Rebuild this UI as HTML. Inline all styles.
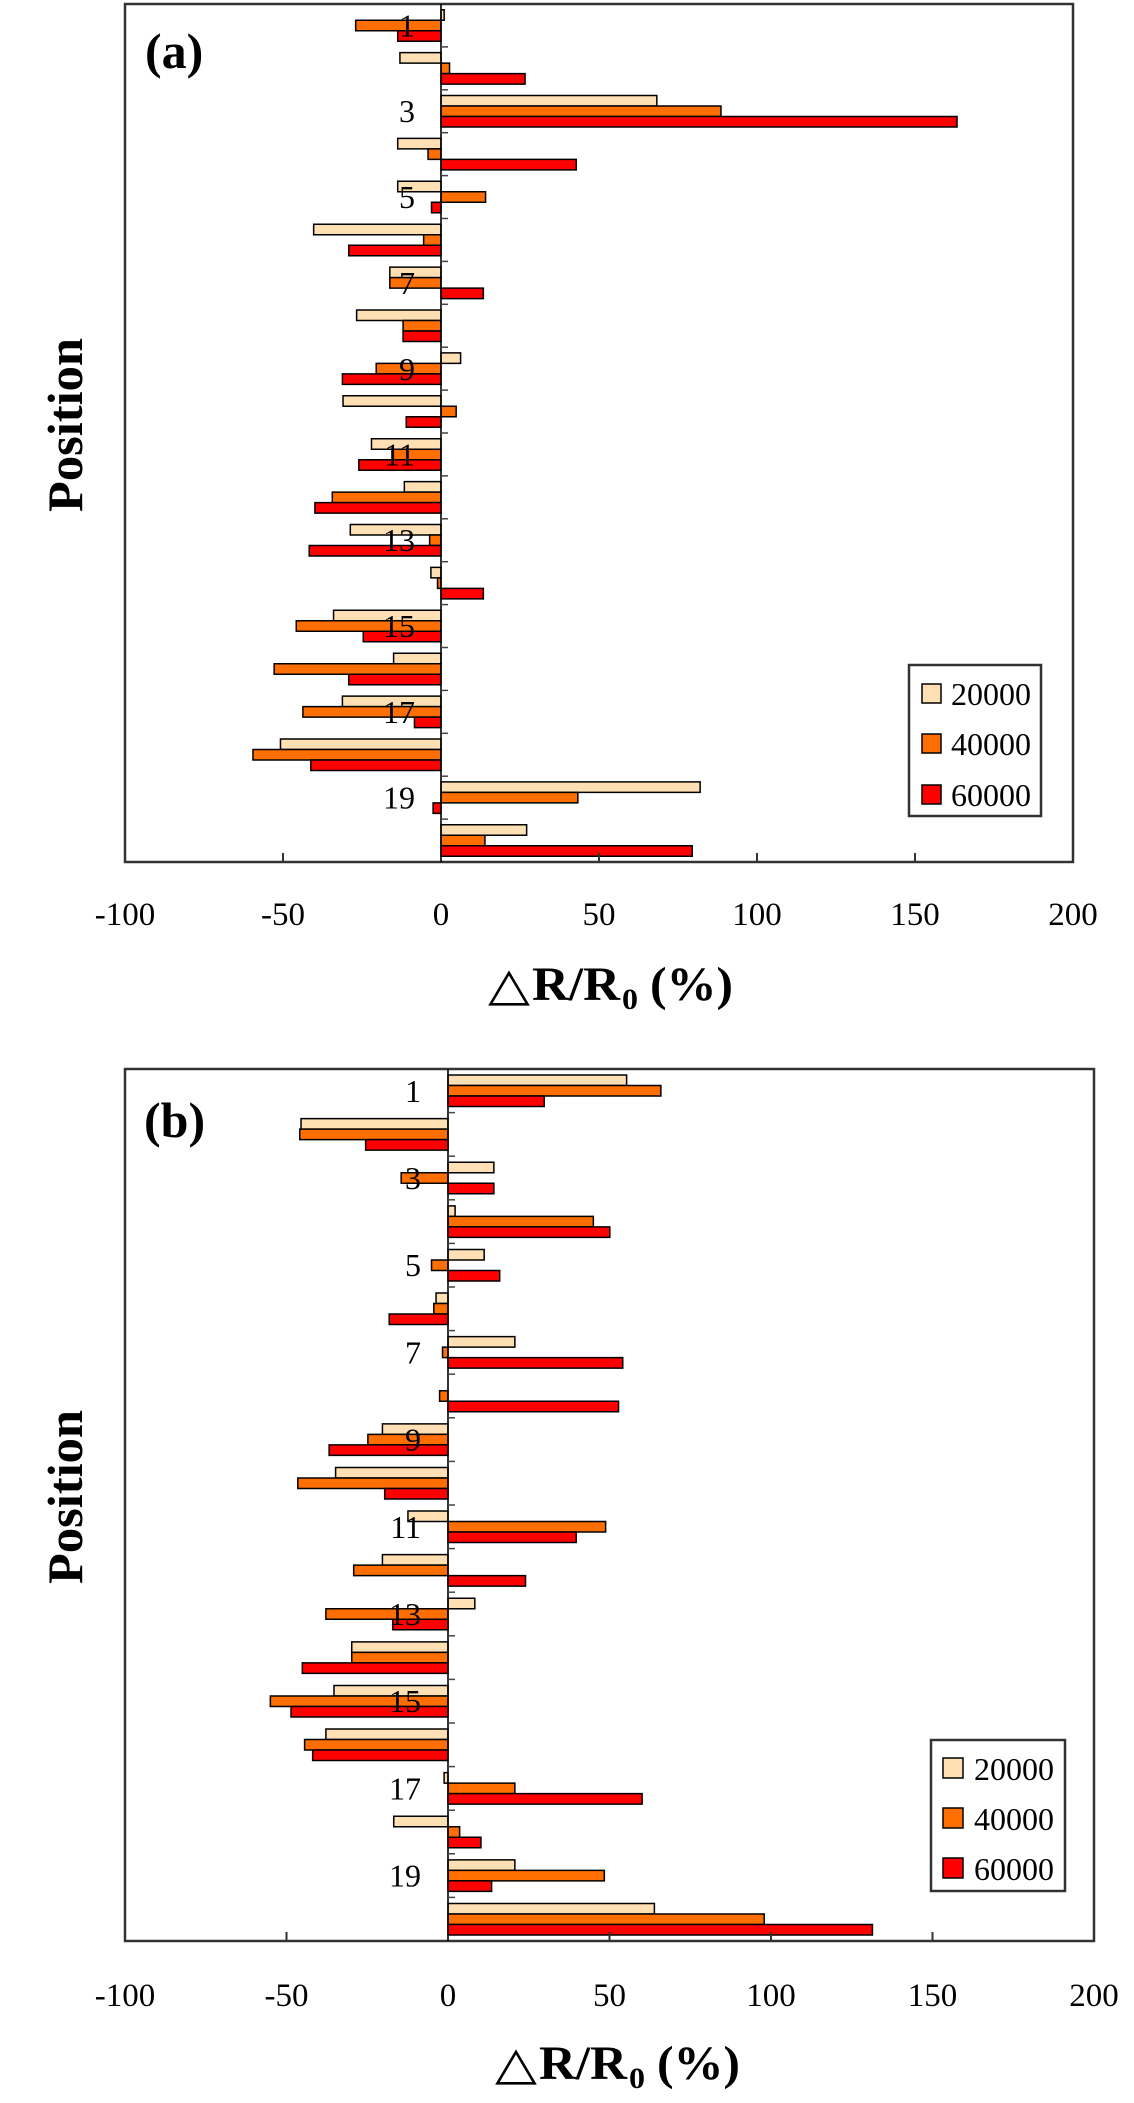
<!DOCTYPE html>
<html>
<head>
<meta charset="utf-8">
<style>
html,body{margin:0;padding:0;background:#fff;}
svg{display:block;}
.l{fill:#FFE0B4;stroke:#000;stroke-width:1.5;}
.o{fill:#FF6E00;stroke:#000;stroke-width:1.5;}
.r{fill:#FF0000;stroke:#000;stroke-width:1.5;}
.bars rect{vector-effect:non-scaling-stroke;}
text{font-family:"Liberation Serif","DejaVu Serif",serif;fill:#000;}
.tk{font-size:33px;text-anchor:middle;}
.cat{font-size:32px;text-anchor:end;}
.lg{font-size:32px;}
.bt{font-weight:bold;}
</style>
</head>
<body>
<svg width="1134" height="2103" viewBox="0 0 1134 2103" xmlns="http://www.w3.org/2000/svg">
<rect x="0" y="0" width="1134" height="2103" fill="#fff"/>

<!-- ================= PLOT (a) ================= -->
<g class="bars" transform="translate(441,0) scale(3.16,1)">
<rect class="l" x="0" y="9.7" width="1" height="10.5"/>
<rect class="o" x="-27" y="20.2" width="27" height="10.5"/>
<rect class="r" x="-13.7" y="30.7" width="13.7" height="10.5"/>

<rect class="l" x="-13" y="52.6" width="13" height="10.5"/>
<rect class="o" x="0" y="63.1" width="2.7" height="10.5"/>
<rect class="r" x="0" y="73.6" width="26.6" height="10.5"/>

<rect class="l" x="0" y="95.5" width="68.3" height="10.5"/>
<rect class="o" x="0" y="106" width="88.6" height="10.5"/>
<rect class="r" x="0" y="116.5" width="163.3" height="10.5"/>

<rect class="l" x="-13.7" y="138.4" width="13.7" height="10.5"/>
<rect class="o" x="-4.1" y="148.9" width="4.1" height="10.5"/>
<rect class="r" x="0" y="159.4" width="42.8" height="10.5"/>

<rect class="l" x="-13.7" y="181.3" width="13.7" height="10.5"/>
<rect class="o" x="0" y="191.8" width="14.1" height="10.5"/>
<rect class="r" x="-3" y="202.3" width="3" height="10.5"/>

<rect class="l" x="-40.3" y="224.2" width="40.3" height="10.5"/>
<rect class="o" x="-5.5" y="234.7" width="5.5" height="10.5"/>
<rect class="r" x="-29.2" y="245.2" width="29.2" height="10.5"/>

<rect class="l" x="-16.2" y="267.1" width="16.2" height="10.5"/>
<rect class="o" x="-16.2" y="277.6" width="16.2" height="10.5"/>
<rect class="r" x="0" y="288.1" width="13.4" height="10.5"/>

<rect class="l" x="-26.7" y="310" width="26.7" height="10.5"/>
<rect class="o" x="-12" y="320.5" width="12" height="10.5"/>
<rect class="r" x="-12" y="331" width="12" height="10.5"/>

<rect class="l" x="0" y="352.9" width="6.2" height="10.5"/>
<rect class="o" x="-20.5" y="363.4" width="20.5" height="10.5"/>
<rect class="r" x="-31.2" y="373.9" width="31.2" height="10.5"/>

<rect class="l" x="-31" y="395.8" width="31" height="10.5"/>
<rect class="o" x="0" y="406.3" width="4.8" height="10.5"/>
<rect class="r" x="-11" y="416.8" width="11" height="10.5"/>

<rect class="l" x="-22" y="438.7" width="22" height="10.5"/>
<rect class="o" x="-15.5" y="449.2" width="15.5" height="10.5"/>
<rect class="r" x="-26" y="459.7" width="26" height="10.5"/>

<rect class="l" x="-11.6" y="481.6" width="11.6" height="10.5"/>
<rect class="o" x="-34.4" y="492.1" width="34.4" height="10.5"/>
<rect class="r" x="-39.9" y="502.6" width="39.9" height="10.5"/>

<rect class="l" x="-28.7" y="524.5" width="28.7" height="10.5"/>
<rect class="o" x="-3.6" y="535" width="3.6" height="10.5"/>
<rect class="r" x="-41.7" y="545.5" width="41.7" height="10.5"/>

<rect class="l" x="-3.2" y="567.4" width="3.2" height="10.5"/>
<rect class="o" x="-1.1" y="577.9" width="1.1" height="10.5"/>
<rect class="r" x="0" y="588.4" width="13.4" height="10.5"/>

<rect class="l" x="-34" y="610.3" width="34" height="10.5"/>
<rect class="o" x="-45.8" y="620.8" width="45.8" height="10.5"/>
<rect class="r" x="-24.6" y="631.3" width="24.6" height="10.5"/>

<rect class="l" x="-15" y="653.2" width="15" height="10.5"/>
<rect class="o" x="-52.8" y="663.7" width="52.8" height="10.5"/>
<rect class="r" x="-29.2" y="674.2" width="29.2" height="10.5"/>

<rect class="l" x="-31.2" y="696.1" width="31.2" height="10.5"/>
<rect class="o" x="-43.7" y="706.6" width="43.7" height="10.5"/>
<rect class="r" x="-8.4" y="717.1" width="8.4" height="10.5"/>

<rect class="l" x="-50.8" y="739" width="50.8" height="10.5"/>
<rect class="o" x="-59.5" y="749.5" width="59.5" height="10.5"/>
<rect class="r" x="-41.2" y="760" width="41.2" height="10.5"/>

<rect class="l" x="0" y="781.9" width="82" height="10.5"/>
<rect class="o" x="0" y="792.4" width="43.3" height="10.5"/>
<rect class="r" x="-2.5" y="802.9" width="2.5" height="10.5"/>

<rect class="l" x="0" y="824.8" width="27.1" height="10.5"/>
<rect class="o" x="0" y="835.3" width="13.9" height="10.5"/>
<rect class="r" x="0" y="845.8" width="79.5" height="10.5"/>
</g>

<!-- frame (a) -->
<rect x="125" y="4" width="948" height="858" fill="none" stroke="#333" stroke-width="2.5"/>
<line x1="441" y1="4" x2="441" y2="862" stroke="#000" stroke-width="1.6"/>
<!-- bottom ticks (a) -->
<g stroke="#333" stroke-width="2">
<line x1="283" y1="853" x2="283" y2="862"/>
<line x1="599" y1="853" x2="599" y2="862"/>
<line x1="757" y1="853" x2="757" y2="862"/>
<line x1="915" y1="853" x2="915" y2="862"/>
</g>
<!-- category ticks (a) -->
<g stroke="#444" stroke-width="1.5">
<line x1="441" y1="46.9" x2="448" y2="46.9"/>
<line x1="441" y1="89.8" x2="448" y2="89.8"/>
<line x1="441" y1="132.7" x2="448" y2="132.7"/>
<line x1="441" y1="175.6" x2="448" y2="175.6"/>
<line x1="441" y1="218.5" x2="448" y2="218.5"/>
<line x1="441" y1="261.4" x2="448" y2="261.4"/>
<line x1="441" y1="304.3" x2="448" y2="304.3"/>
<line x1="441" y1="347.2" x2="448" y2="347.2"/>
<line x1="441" y1="390.1" x2="448" y2="390.1"/>
<line x1="441" y1="433" x2="448" y2="433"/>
<line x1="441" y1="475.9" x2="448" y2="475.9"/>
<line x1="441" y1="518.8" x2="448" y2="518.8"/>
<line x1="441" y1="561.7" x2="448" y2="561.7"/>
<line x1="441" y1="604.6" x2="448" y2="604.6"/>
<line x1="441" y1="647.5" x2="448" y2="647.5"/>
<line x1="441" y1="690.4" x2="448" y2="690.4"/>
<line x1="441" y1="733.3" x2="448" y2="733.3"/>
<line x1="441" y1="776.2" x2="448" y2="776.2"/>
<line x1="441" y1="819.1" x2="448" y2="819.1"/>
</g>
<!-- category labels (a) -->
<text class="cat" x="415" y="36.5">1</text>
<text class="cat" x="415" y="122">3</text>
<text class="cat" x="415" y="208">5</text>
<text class="cat" x="415" y="294">7</text>
<text class="cat" x="415" y="380">9</text>
<text class="cat" x="415" y="465.5">11</text>
<text class="cat" x="415" y="551">13</text>
<text class="cat" x="415" y="637">15</text>
<text class="cat" x="415" y="723">17</text>
<text class="cat" x="415" y="808.5">19</text>
<!-- tick labels (a) -->
<text class="tk" x="125" y="925">-100</text>
<text class="tk" x="283" y="925">-50</text>
<text class="tk" x="441" y="925">0</text>
<text class="tk" x="599" y="925">50</text>
<text class="tk" x="757" y="925">100</text>
<text class="tk" x="915" y="925">150</text>
<text class="tk" x="1073" y="925">200</text>
<!-- legend (a) -->
<rect x="909" y="665" width="132" height="151" fill="#fff" stroke="#333" stroke-width="2.5"/>
<rect class="l" x="922" y="684" width="19" height="19"/>
<rect class="o" x="922" y="734" width="19" height="19"/>
<rect class="r" x="922" y="785" width="19" height="19"/>
<text class="lg" x="951" y="705">20000</text>
<text class="lg" x="951" y="755">40000</text>
<text class="lg" x="951" y="806">60000</text>
<!-- panel label (a) -->
<text class="bt" x="145" y="68" font-size="50">(a)</text>
<!-- y title (a) -->
<text class="bt" font-size="50" text-anchor="middle" textLength="174" lengthAdjust="spacingAndGlyphs" transform="translate(82,425) rotate(-90)">Position</text>
<!-- x title (a) -->
<text class="bt" x="488" y="1000" font-size="46" textLength="42" lengthAdjust="spacingAndGlyphs">△</text>
<text class="bt" x="532" y="1000" font-size="48" textLength="88" lengthAdjust="spacingAndGlyphs">R/R</text>
<text class="bt" x="622" y="1009" font-size="30" textLength="16" lengthAdjust="spacingAndGlyphs">0</text>
<text class="bt" x="650" y="1000" font-size="48" textLength="83" lengthAdjust="spacingAndGlyphs">(%)</text>

<!-- ================= PLOT (b) ================= -->
<g class="bars" transform="translate(448,0) scale(3.23,1)">
<rect class="l" x="0" y="1075.05" width="55.3" height="10.5"/>
<rect class="o" x="0" y="1085.55" width="65.9" height="10.5"/>
<rect class="r" x="0" y="1096.05" width="29.8" height="10.5"/>

<rect class="l" x="-45.5" y="1118.65" width="45.5" height="10.5"/>
<rect class="o" x="-45.9" y="1129.15" width="45.9" height="10.5"/>
<rect class="r" x="-25.5" y="1139.65" width="25.5" height="10.5"/>

<rect class="l" x="0" y="1162.25" width="14.2" height="10.5"/>
<rect class="o" x="-14.5" y="1172.75" width="14.5" height="10.5"/>
<rect class="r" x="0" y="1183.25" width="14.2" height="10.5"/>

<rect class="l" x="0" y="1205.85" width="2.2" height="10.5"/>
<rect class="o" x="0" y="1216.35" width="45" height="10.5"/>
<rect class="r" x="0" y="1226.85" width="50.1" height="10.5"/>

<rect class="l" x="0" y="1249.45" width="11.2" height="10.5"/>
<rect class="o" x="-5.1" y="1259.95" width="5.1" height="10.5"/>
<rect class="r" x="0" y="1270.45" width="16" height="10.5"/>

<rect class="l" x="-3.7" y="1293.05" width="3.7" height="10.5"/>
<rect class="o" x="-4.4" y="1303.55" width="4.4" height="10.5"/>
<rect class="r" x="-18.2" y="1314.05" width="18.2" height="10.5"/>

<rect class="l" x="0" y="1336.65" width="20.7" height="10.5"/>
<rect class="o" x="-1.7" y="1347.15" width="1.7" height="10.5"/>
<rect class="r" x="0" y="1357.65" width="54.1" height="10.5"/>

<rect class="o" x="-2.6" y="1390.75" width="2.6" height="10.5"/>
<rect class="r" x="0" y="1401.25" width="52.8" height="10.5"/>

<rect class="l" x="-20.3" y="1423.85" width="20.3" height="10.5"/>
<rect class="o" x="-24.8" y="1434.35" width="24.8" height="10.5"/>
<rect class="r" x="-36.8" y="1444.85" width="36.8" height="10.5"/>

<rect class="l" x="-34.8" y="1467.45" width="34.8" height="10.5"/>
<rect class="o" x="-46.5" y="1477.95" width="46.5" height="10.5"/>
<rect class="r" x="-19.6" y="1488.45" width="19.6" height="10.5"/>

<rect class="l" x="-12.4" y="1511.05" width="12.4" height="10.5"/>
<rect class="o" x="0" y="1521.55" width="48.8" height="10.5"/>
<rect class="r" x="0" y="1532.05" width="39.7" height="10.5"/>

<rect class="l" x="-20.3" y="1554.65" width="20.3" height="10.5"/>
<rect class="o" x="-29.2" y="1565.15" width="29.2" height="10.5"/>
<rect class="r" x="0" y="1575.65" width="24" height="10.5"/>

<rect class="l" x="0" y="1598.25" width="8.3" height="10.5"/>
<rect class="o" x="-37.8" y="1608.75" width="37.8" height="10.5"/>
<rect class="r" x="-17.1" y="1619.25" width="17.1" height="10.5"/>

<rect class="l" x="-29.8" y="1641.85" width="29.8" height="10.5"/>
<rect class="o" x="-29.8" y="1652.35" width="29.8" height="10.5"/>
<rect class="r" x="-45.1" y="1662.85" width="45.1" height="10.5"/>

<rect class="l" x="-35.3" y="1685.45" width="35.3" height="10.5"/>
<rect class="o" x="-55" y="1695.95" width="55" height="10.5"/>
<rect class="r" x="-48.6" y="1706.45" width="48.6" height="10.5"/>

<rect class="l" x="-37.8" y="1729.05" width="37.8" height="10.5"/>
<rect class="o" x="-44.4" y="1739.55" width="44.4" height="10.5"/>
<rect class="r" x="-41.9" y="1750.05" width="41.9" height="10.5"/>

<rect class="l" x="-1.2" y="1772.65" width="1.2" height="10.5"/>
<rect class="o" x="0" y="1783.15" width="20.7" height="10.5"/>
<rect class="r" x="0" y="1793.65" width="60.1" height="10.5"/>

<rect class="l" x="-16.8" y="1816.25" width="16.8" height="10.5"/>
<rect class="o" x="0" y="1826.75" width="3.6" height="10.5"/>
<rect class="r" x="0" y="1837.25" width="10.2" height="10.5"/>

<rect class="l" x="0" y="1859.85" width="20.7" height="10.5"/>
<rect class="o" x="0" y="1870.35" width="48.4" height="10.5"/>
<rect class="r" x="0" y="1880.85" width="13.5" height="10.5"/>

<rect class="l" x="0" y="1903.45" width="63.9" height="10.5"/>
<rect class="o" x="0" y="1913.95" width="97.9" height="10.5"/>
<rect class="r" x="0" y="1924.45" width="131.4" height="10.5"/>
</g>

<!-- frame (b) -->
<rect x="125" y="1069" width="969" height="872" fill="none" stroke="#333" stroke-width="2.5"/>
<line x1="448" y1="1069" x2="448" y2="1941" stroke="#000" stroke-width="1.6"/>
<g stroke="#333" stroke-width="2">
<line x1="286.5" y1="1932" x2="286.5" y2="1941"/>
<line x1="609.5" y1="1932" x2="609.5" y2="1941"/>
<line x1="771" y1="1932" x2="771" y2="1941"/>
<line x1="932.5" y1="1932" x2="932.5" y2="1941"/>
</g>
<g stroke="#444" stroke-width="1.5">
<line x1="448" y1="1112.6" x2="455" y2="1112.6"/>
<line x1="448" y1="1156.2" x2="455" y2="1156.2"/>
<line x1="448" y1="1199.8" x2="455" y2="1199.8"/>
<line x1="448" y1="1243.4" x2="455" y2="1243.4"/>
<line x1="448" y1="1287" x2="455" y2="1287"/>
<line x1="448" y1="1330.6" x2="455" y2="1330.6"/>
<line x1="448" y1="1374.2" x2="455" y2="1374.2"/>
<line x1="448" y1="1417.8" x2="455" y2="1417.8"/>
<line x1="448" y1="1461.4" x2="455" y2="1461.4"/>
<line x1="448" y1="1505" x2="455" y2="1505"/>
<line x1="448" y1="1548.6" x2="455" y2="1548.6"/>
<line x1="448" y1="1592.2" x2="455" y2="1592.2"/>
<line x1="448" y1="1635.8" x2="455" y2="1635.8"/>
<line x1="448" y1="1679.4" x2="455" y2="1679.4"/>
<line x1="448" y1="1723" x2="455" y2="1723"/>
<line x1="448" y1="1766.6" x2="455" y2="1766.6"/>
<line x1="448" y1="1810.2" x2="455" y2="1810.2"/>
<line x1="448" y1="1853.8" x2="455" y2="1853.8"/>
<line x1="448" y1="1897.4" x2="455" y2="1897.4"/>
</g>
<text class="cat" x="421" y="1102">1</text>
<text class="cat" x="421" y="1189">3</text>
<text class="cat" x="421" y="1276">5</text>
<text class="cat" x="421" y="1363.5">7</text>
<text class="cat" x="421" y="1450.5">9</text>
<text class="cat" x="421" y="1538">11</text>
<text class="cat" x="421" y="1625">13</text>
<text class="cat" x="421" y="1712">15</text>
<text class="cat" x="421" y="1799.5">17</text>
<text class="cat" x="421" y="1886.5">19</text>
<text class="tk" x="125" y="2006">-100</text>
<text class="tk" x="286.5" y="2006">-50</text>
<text class="tk" x="448" y="2006">0</text>
<text class="tk" x="609.5" y="2006">50</text>
<text class="tk" x="771" y="2006">100</text>
<text class="tk" x="932.5" y="2006">150</text>
<text class="tk" x="1094" y="2006">200</text>
<rect x="931" y="1740" width="134" height="151" fill="#fff" stroke="#333" stroke-width="2.5"/>
<rect class="l" x="943" y="1758" width="20" height="20"/>
<rect class="o" x="943" y="1808" width="20" height="20"/>
<rect class="r" x="943" y="1858" width="20" height="20"/>
<text class="lg" x="974" y="1780">20000</text>
<text class="lg" x="974" y="1830">40000</text>
<text class="lg" x="974" y="1880">60000</text>
<text class="bt" x="144" y="1137" font-size="50">(b)</text>
<text class="bt" font-size="50" text-anchor="middle" textLength="174" lengthAdjust="spacingAndGlyphs" transform="translate(82,1497) rotate(-90)">Position</text>
<text class="bt" x="495" y="2079" font-size="46" textLength="42" lengthAdjust="spacingAndGlyphs">△</text>
<text class="bt" x="539" y="2079" font-size="48" textLength="88" lengthAdjust="spacingAndGlyphs">R/R</text>
<text class="bt" x="629" y="2088" font-size="30" textLength="16" lengthAdjust="spacingAndGlyphs">0</text>
<text class="bt" x="657" y="2079" font-size="48" textLength="83" lengthAdjust="spacingAndGlyphs">(%)</text>
</svg>
</body>
</html>
